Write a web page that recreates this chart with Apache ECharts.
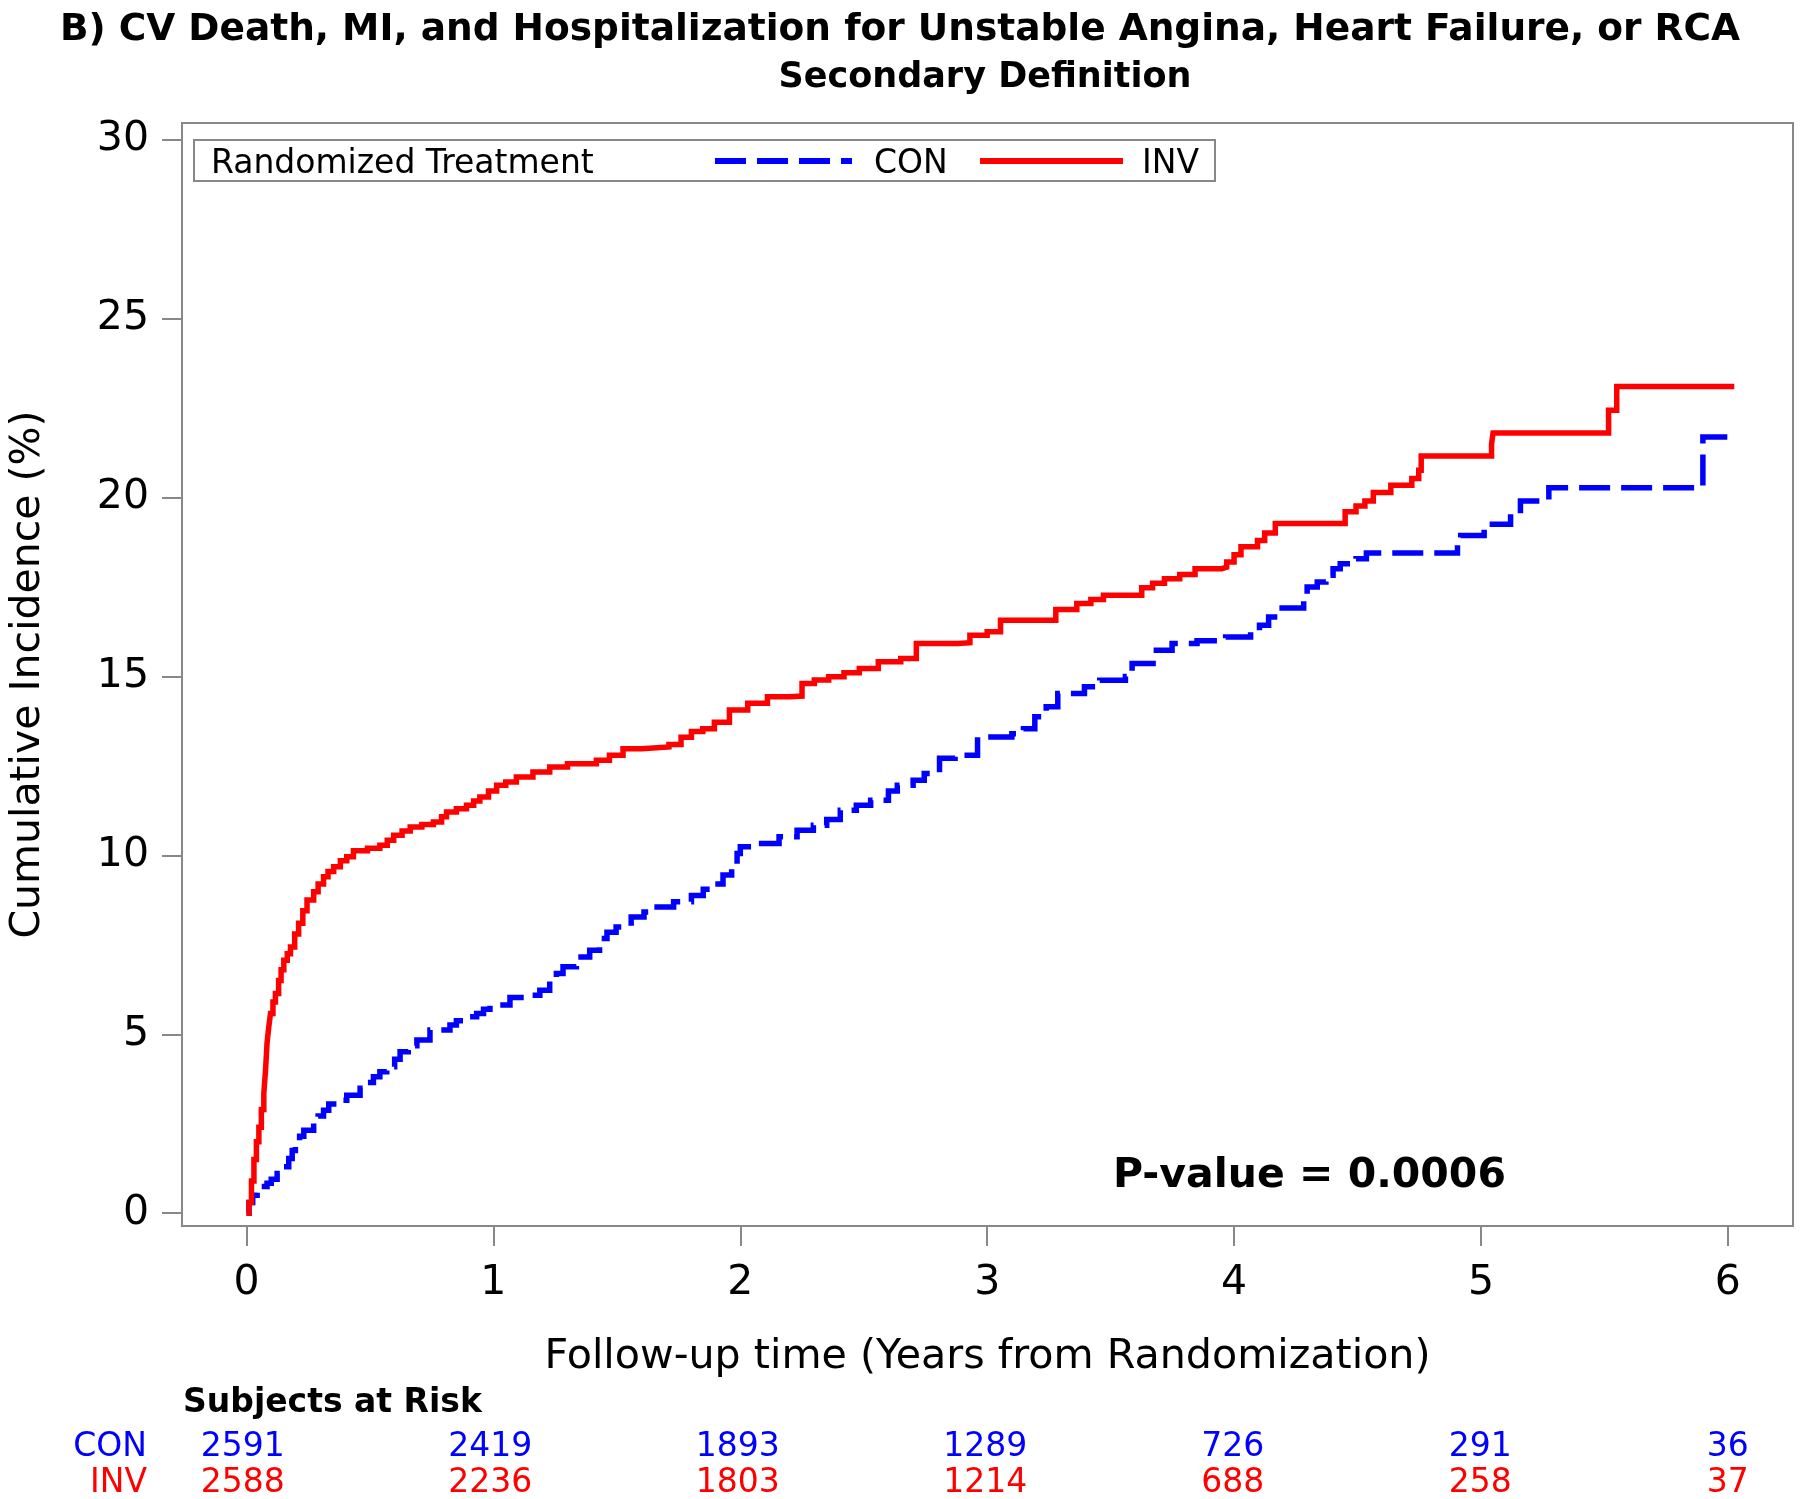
<!DOCTYPE html>
<html><head><meta charset="utf-8">
<script src="https://cdn.jsdelivr.net/npm/echarts@6.0.0/dist/echarts.min.js"></script>
<style>html,body{margin:0;padding:0;background:#fff}#c{width:1800px;height:1499px}</style>
</head><body><div id="c"></div>
<script>
// ---- data ----
const invCurve = [
[0,0],[0.01,0.3],[0.02,0.9],[0.03,1.5],[0.04,2.0],[0.05,2.4],[0.06,2.9],[0.07,3.35],[0.077,4.0],[0.083,4.75],[0.09,5.2],[0.097,5.58],[0.107,5.9],[0.117,6.14],[0.13,6.5],[0.14,6.8],[0.151,7.07],[0.165,7.25],[0.178,7.44],[0.195,7.8],[0.211,8.1],[0.228,8.45],[0.245,8.75],[0.272,8.98],[0.29,9.2],[0.312,9.4],[0.33,9.55],[0.353,9.68],[0.38,9.85],[0.406,9.96],[0.433,10.13],[0.49,10.2],[0.54,10.28],[0.57,10.42],[0.596,10.56],[0.63,10.68],[0.663,10.79],[0.71,10.86],[0.757,10.93],[0.79,11.08],[0.81,11.21],[0.85,11.3],[0.891,11.4],[0.92,11.52],[0.945,11.63],[0.98,11.8],[1.013,11.96],[1.05,12.05],[1.093,12.19],[1.16,12.33],[1.228,12.47],[1.3,12.56],[1.417,12.66],[1.47,12.8],[1.525,12.98],[1.6,13.03],[1.711,13.1],[1.76,13.3],[1.802,13.46],[1.848,13.54],[1.895,13.72],[1.956,14.06],[2.03,14.25],[2.11,14.43],[2.2,14.45],[2.25,14.8],[2.3,14.9],[2.358,14.99],[2.42,15.1],[2.482,15.22],[2.559,15.41],[2.65,15.5],[2.713,15.92],[2.883,15.94],[2.93,16.15],[3.0,16.25],[3.054,16.57],[3.278,16.87],[3.363,17.04],[3.42,17.15],[3.471,17.27],[3.626,17.48],[3.67,17.6],[3.718,17.73],[3.78,17.85],[3.842,18.01],[3.95,18.05],[3.97,18.2],[4.0,18.4],[4.028,18.62],[4.095,18.8],[4.124,19.01],[4.167,19.27],[4.45,19.6],[4.494,19.76],[4.53,19.9],[4.564,20.14],[4.635,20.34],[4.72,20.53],[4.748,20.76],[4.758,21.16],[5.043,21.49],[5.049,21.8],[5.517,22.44],[5.55,23.1],[6.026,23.1]
];
const conCurve = [
[0,0],[0.01,0.3],[0.025,0.5],[0.043,0.6],[0.06,0.75],[0.083,0.84],[0.1,0.95],[0.124,1.11],[0.15,1.3],[0.171,1.53],[0.185,1.75],[0.198,1.95],[0.215,2.15],[0.232,2.32],[0.272,2.56],[0.29,2.72],[0.312,2.88],[0.333,3.05],[0.353,3.16],[0.406,3.3],[0.46,3.49],[0.49,3.65],[0.514,3.81],[0.54,3.95],[0.568,4.09],[0.6,4.3],[0.622,4.51],[0.655,4.68],[0.69,4.84],[0.743,5.12],[0.824,5.26],[0.85,5.38],[0.878,5.49],[0.932,5.58],[0.96,5.7],[0.986,5.82],[1.067,6.03],[1.134,6.09],[1.188,6.23],[1.228,6.51],[1.255,6.7],[1.282,6.89],[1.336,7.16],[1.39,7.35],[1.43,7.68],[1.46,7.85],[1.497,8.0],[1.558,8.28],[1.61,8.42],[1.663,8.56],[1.73,8.7],[1.802,8.88],[1.85,9.05],[1.895,9.2],[1.93,9.45],[1.965,9.7],[1.987,10.05],[2.0,10.24],[2.064,10.33],[2.157,10.52],[2.23,10.7],[2.296,10.84],[2.35,11.0],[2.405,11.26],[2.47,11.4],[2.528,11.54],[2.6,11.8],[2.636,11.96],[2.7,12.1],[2.745,12.29],[2.807,12.71],[2.87,12.8],[2.961,13.31],[3.1,13.4],[3.147,13.54],[3.193,13.87],[3.239,14.15],[3.286,14.52],[3.394,14.71],[3.456,14.89],[3.56,15.0],[3.587,15.36],[3.672,15.73],[3.749,15.92],[3.85,16.0],[3.966,16.1],[4.067,16.26],[4.103,16.43],[4.14,16.66],[4.176,16.91],[4.282,17.22],[4.296,17.5],[4.337,17.64],[4.372,17.83],[4.401,18.01],[4.43,18.15],[4.494,18.29],[4.536,18.45],[4.905,18.76],[4.918,18.94],[5.013,19.25],[5.12,19.55],[5.16,19.9],[5.275,20.27],[5.899,21.69],[6.026,21.69]
];
const xTicks = [0,1,2,3,4,5,6];
const yTicks = [0,5,10,15,20,25,30];
const groups = ['CON','INV'];
const riskTimes = [0,1,2,3,4,5,6];
const conAtRisk = [2591,2419,1893,1289,726,291,36];
const invAtRisk = [2588,2236,1803,1214,688,258,37];
const titleText = 'B) CV Death, MI, and Hospitalization for Unstable Angina, Heart Failure, or RCA';
const subtitleText = 'Secondary Definition';
const xName = 'Follow-up time (Years from Randomization)';
const yName = 'Cumulative Incidence (%)';
const legendTitle = 'Randomized Treatment';
const pText = 'P-value = 0.0006';
const riskTitle = 'Subjects at Risk';

// ---- styles ----
const FONT = "'DejaVu Sans', Verdana, sans-serif";
const FRAME = '#888888';
const BLUE = '#0000ff', RED = '#ff0000';
const DASH = [31, 11];
const LW = 5.5;

const chart = echarts.init(document.getElementById('c'), null, {renderer: 'canvas'});
const option = {
  animation: false,
  backgroundColor: '#ffffff',
  title: [
    {text: titleText, left: 'center', top: 6, textStyle: {fontFamily: FONT, fontWeight: 'bold', fontSize: 37.5, color: '#000', lineHeight: 38}}
  ],
  grid: [
    {left: 178, right: 7, top: 123, bottom: 273, show: true, borderColor: FRAME, borderWidth: 2, backgroundColor: 'transparent'},
    {left: 178, right: 7, top: 1423, height: 76, show: false}
  ],
  xAxis: [
    {type: 'value', gridIndex: 0, min: -0.2614, max: 6.264,
     axisLine: {show: false, onZero: false}, splitLine: {show: false},
     axisTick: {show: true, customValues: xTicks, length: 20, inside: false, lineStyle: {color: FRAME, width: 2}},
     axisLabel: {customValues: xTicks, fontFamily: FONT, fontSize: 41, color: '#000', margin: 37},
     name: xName, nameLocation: 'middle', nameGap: 111,
     nameTextStyle: {fontFamily: FONT, fontSize: 41.2, color: '#000'}},
    {type: 'value', gridIndex: 1, min: -0.2614, max: 6.264, show: false, axisLine: {onZero: false}}
  ],
  yAxis: [
    {type: 'value', gridIndex: 0, min: -0.357, max: 30.464,
     axisLine: {show: false, onZero: false}, splitLine: {show: false},
     axisTick: {show: true, customValues: yTicks, length: 20, inside: false, lineStyle: {color: FRAME, width: 2}},
     axisLabel: {customValues: yTicks, fontFamily: FONT, fontSize: 41, color: '#000', margin: 33, padding: [8, 0, 0, 0]},
     name: yName, nameLocation: 'middle', nameGap: 133, nameRotate: 90,
     nameTextStyle: {fontFamily: FONT, fontSize: 41, color: '#000'}},
    {type: 'category', gridIndex: 1, data: groups, inverse: true,
     axisLine: {show: false, onZero: false}, axisTick: {show: false}, splitLine: {show: false},
     axisLabel: {interval: 0, margin: 31, fontFamily: FONT, fontSize: 33, padding: [12, 0, 0, 0],
       formatter: v => v === 'CON' ? '{c|' + v + '}' : '{i|' + v + '}',
       rich: {c: {color: BLUE, fontFamily: FONT, fontSize: 33}, i: {color: RED, fontFamily: FONT, fontSize: 33}}}}
  ],
  series: [
    {name: 'CON', type: 'line', xAxisIndex: 0, yAxisIndex: 0, step: 'end', symbol: 'none', data: conCurve,
     lineStyle: {color: BLUE, width: LW, type: DASH, cap: 'butt', join: 'miter'}, z: 3},
    {name: 'INV', type: 'line', xAxisIndex: 0, yAxisIndex: 0, step: 'end', symbol: 'none', data: invCurve,
     lineStyle: {color: RED, width: LW, type: 'solid', cap: 'butt', join: 'miter'}, z: 4},
    {name: 'CON risk', type: 'scatter', xAxisIndex: 1, yAxisIndex: 1, symbolSize: 1,
     itemStyle: {color: 'rgba(0,0,0,0)', opacity: 1},
     data: riskTimes.map((t, i) => [t, 'CON', conAtRisk[i]]),
     label: {show: true, position: 'inside', offset: [0, 6], formatter: p => String(p.value[2]), color: BLUE, opacity: 1, textBorderWidth: 0, fontFamily: FONT, fontSize: 33}},
    {name: 'INV risk', type: 'scatter', xAxisIndex: 1, yAxisIndex: 1, symbolSize: 1,
     itemStyle: {color: 'rgba(0,0,0,0)', opacity: 1},
     data: riskTimes.map((t, i) => [t, 'INV', invAtRisk[i]]),
     label: {show: true, position: 'inside', offset: [0, 6], formatter: p => String(p.value[2]), color: RED, opacity: 1, textBorderWidth: 0, fontFamily: FONT, fontSize: 33}}
  ],
  graphic: [
    {type: 'text', style: {x: 985, y: 77.5, text: subtitleText, fontFamily: FONT, fontWeight: 'bold', fontSize: 35, fill: '#000', verticalAlign: 'middle', align: 'center'}, z: 11},
    {type: 'rect', shape: {x: 194, y: 140, width: 1021, height: 41}, style: {fill: '#fff', stroke: FRAME, lineWidth: 2}, z: 10},
    {type: 'text', style: {x: 211, y: 164, text: legendTitle, fontFamily: FONT, fontSize: 33, fill: '#000', verticalAlign: 'middle', align: 'left'}, z: 11},
    {type: 'line', shape: {x1: 715, y1: 161, x2: 852, y2: 161}, style: {stroke: BLUE, lineWidth: 6, lineDash: DASH, lineCap: 'butt'}, z: 11},
    {type: 'text', style: {x: 874, y: 164, text: 'CON', fontFamily: FONT, fontSize: 33, fill: '#000', verticalAlign: 'middle', align: 'left'}, z: 11},
    {type: 'line', shape: {x1: 980, y1: 161, x2: 1123, y2: 161}, style: {stroke: RED, lineWidth: 6, lineCap: 'butt'}, z: 11},
    {type: 'text', style: {x: 1142, y: 164, text: 'INV', fontFamily: FONT, fontSize: 33, fill: '#000', verticalAlign: 'middle', align: 'left'}, z: 11},
    {type: 'text', style: {x: 1113, y: 1176, text: pText, fontFamily: FONT, fontWeight: 'bold', fontSize: 41, fill: '#000', verticalAlign: 'middle', align: 'left'}, z: 11},
    {type: 'text', style: {x: 183, y: 1403, text: riskTitle, fontFamily: FONT, fontWeight: 'bold', fontSize: 33, fill: '#000', verticalAlign: 'middle', align: 'left'}, z: 11}
  ]
};
chart.setOption(option);
</script>
</body></html>
